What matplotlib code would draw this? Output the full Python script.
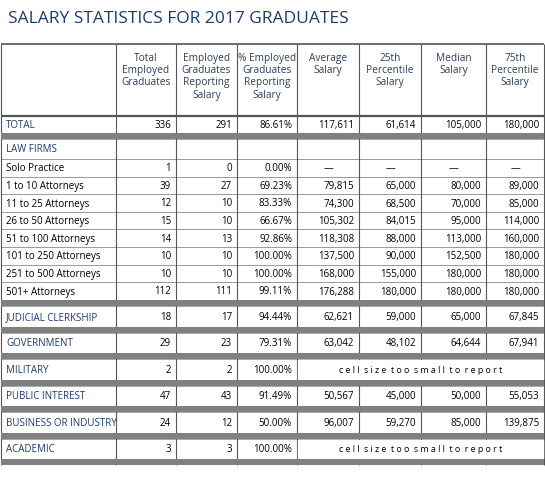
import matplotlib
matplotlib.use("Agg")
import matplotlib.pyplot as plt

# table data
labels = ["TOTAL", "LAW FIRMS", "Solo Practice", "1 to 10 Attorneys", "11 to 25 Attorneys",
          "26 to 50 Attorneys", "51 to 100 Attorneys", "101 to 250 Attorneys",
          "251 to 500 Attorneys", "501+ Attorneys", "JUDICIAL CLERKSHIP", "GOVERNMENT",
          "MILITARY", "PUBLIC INTEREST", "BUSINESS OR INDUSTRY", "ACADEMIC"]
total_emp = [336, None, 1, 39, 12, 15, 14, 10, 10, 112, 18, 29, 2, 47, 24, 3]
reporting = [291, None, 0, 27, 10, 10, 13, 10, 10, 111, 17, 23, 2, 43, 12, 3]
pct = ["86.61%", None, "0.00%", "69.23%", "83.33%", "66.67%", "92.86%", "100.00%",
       "100.00%", "99.11%", "94.44%", "79.31%", "100.00%", "91.49%", "50.00%", "100.00%"]
avg_sal = ["117,611", None, "—", "79,815", "74,300", "105,302", "118,308", "137,500",
           "168,000", "176,288", "62,621", "63,042", None, "50,567", "96,007", None]
p25 = ["61,614", None, "—", "65,000", "68,500", "84,015", "88,000", "90,000",
       "155,000", "180,000", "59,000", "48,102", None, "45,000", "59,270", None]
median = ["105,000", None, "—", "80,000", "70,000", "95,000", "113,000", "152,500",
          "180,000", "180,000", "65,000", "64,644", None, "50,000", "85,000", None]
p75 = ["180,000", None, "—", "89,000", "85,000", "114,000", "160,000", "180,000",
       "180,000", "180,000", "67,845", "67,941", None, "55,053", "139,875", None]
headers = ["Total\nEmployed\nGraduates", "Employed\nGraduates\nReporting\nSalary",
           "% Employed\nGraduates\nReporting\nSalary", "Average\nSalary",
           "25th\nPercentile\nSalary", "Median\nSalary", "75th\nPercentile\nSalary"]
section = [True, True] + [False] * 8 + [True] * 6
small_note = "c e l l  s i z e  t o o  s m a l l  t o  r e p o r t"

plt.rcParams["font.family"] = ["Open Sans", "DejaVu Sans"]
NAVY = "#1f3a66"
BAND = "#808080"
LINE = "#9a9a9a"

fig = plt.figure(figsize=(5.45, 4.89), dpi=100)
ax = fig.add_axes([0, 0, 1, 1])
ax.set_xlim(0, 545)
ax.set_ylim(489, 0)
ax.axis("off")

xs = [1, 116, 176, 237, 297, 359, 421, 486, 544]

# row geometry (top, bottom) in pixels
rows = [(117, 134), (140, 160)]
y = 160
for _ in range(8):
    rows.append((y, y + 17.6))
    y += 17.6
bands = [(134, 140)]
y = 301
for _ in range(6):
    bands.append((y, y + 6))
    rows.append((y + 6, y + 26.5))
    y += 26.5
bands.append((y, y + 6))
bottom = y + 6

ax.text(8, 19, "SALARY STATISTICS FOR 2017 GRADUATES", fontsize=12.5,
        color=NAVY, va="center", ha="left")

# grid
ax.hlines(45, xs[0], xs[-1], color="#555555", lw=1.2)
ax.hlines(117, xs[0], xs[-1], color="#555555", lw=1.6)
for r in rows[1:]:
    ax.hlines([r[0], r[1]], xs[0], xs[-1], color=LINE, lw=0.6)
for x in xs:
    ax.vlines(x, 45, bottom, color="#555555", lw=0.8)
for b0, b1 in bands:
    ax.fill_between([xs[0], xs[-1]], b0, b1, color=BAND, lw=0, zorder=3)

for j, h in enumerate(headers):
    xc = (xs[j + 1] + xs[j + 2]) / 2
    ax.text(xc, 53, h, ha="center", va="top", fontsize=7.3, color="#2e3f5c",
            linespacing=1.15)

cols = [total_emp, reporting, pct, avg_sal, p25, median, p75]
for i, (lab, (t, b)) in enumerate(zip(labels, rows)):
    yc = (t + b) / 2
    ax.text(6, yc, lab, ha="left", va="center", fontsize=7.0,
            color=NAVY if section[i] else "black")
    for j, col in enumerate(cols):
        v = col[i]
        if v is None:
            continue
        x0, x1 = xs[j + 1], xs[j + 2]
        if v == "—":
            ax.text((x0 + x1) / 2, yc, v, ha="center", va="center", fontsize=7.0)
        else:
            ax.text(x1 - 5, yc, str(v), ha="right", va="center", fontsize=7.0)
    if avg_sal[i] is None and total_emp[i] is not None:
        ax.fill_between([xs[4] + 1, xs[-1] - 1], t + 1, b - 1, color="white", zorder=2)
        ax.text((xs[4] + xs[-1]) / 2, yc, small_note, ha="center", va="center",
                fontsize=6.4, zorder=4)

fig.savefig("out.png", dpi=100)
